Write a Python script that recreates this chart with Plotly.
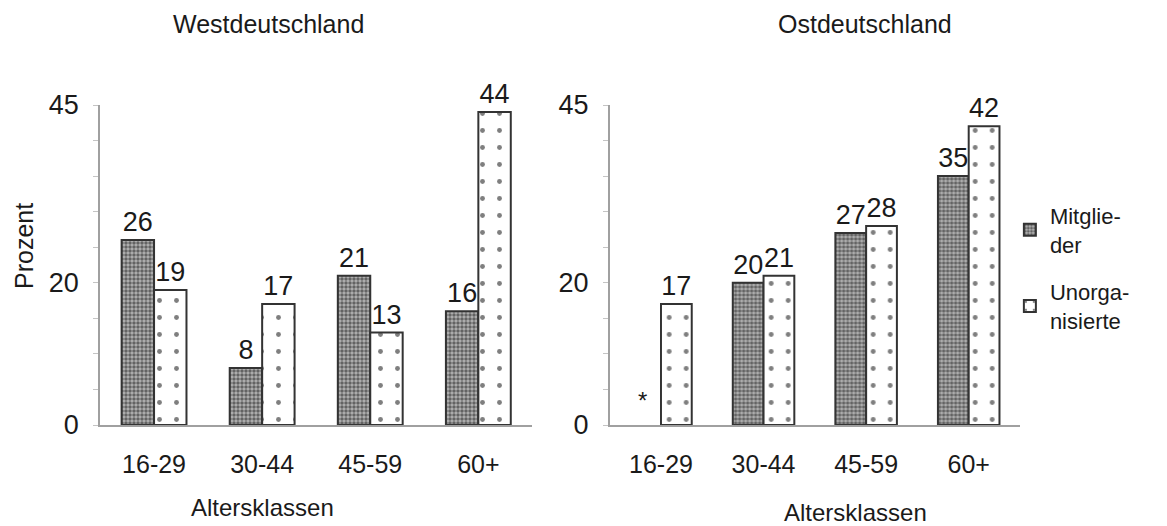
import plotly.graph_objects as go

categories = ["16-29", "30-44", "45-59", "60+"]
west_mitglieder = [26, 8, 21, 16]
west_unorg = [19, 17, 13, 44]
ost_mitglieder = [None, 20, 27, 35]
ost_unorg = [17, 21, 28, 42]
y_ticks = [0, 20, 45]

FONT = "Liberation Sans, Arial, sans-serif"
TXT = "#1a1a1a"
EDGE = "#333333"

mit_pattern = dict(shape=".", size=4, solidity=0.6, fgcolor="#111111", bgcolor="#b4b4b4")
uno_pattern = dict(shape=".", size=17, solidity=0.065, fgcolor="#000000", bgcolor="#ffffff")


def fmt(vals):
    return ["" if v is None else str(v) for v in vals]


def bar(y, name, group, pattern, color, xa, ya, show):
    return go.Bar(
        x=categories, y=y, name=name, legendgroup=group, showlegend=show,
        marker=dict(color=color, line=dict(color=EDGE, width=2), pattern=pattern),
        text=fmt(y), textposition="outside", cliponaxis=False,
        textfont=dict(size=27, color=TXT, family=FONT), xaxis=xa, yaxis=ya)


fig = go.Figure()
fig.add_trace(bar(west_mitglieder, "Mitglie-<br>der", "m", mit_pattern, "#b4b4b4", "x", "y", True))
fig.add_trace(bar(west_unorg, "Unorga-<br>nisierte", "u", uno_pattern, "#ffffff", "x", "y", True))
fig.add_trace(bar(ost_mitglieder, "Mitglie-<br>der", "m", mit_pattern, "#b4b4b4", "x2", "y2", False))
fig.add_trace(bar(ost_unorg, "Unorga-<br>nisierte", "u", uno_pattern, "#ffffff", "x2", "y2", False))

axis_common = dict(showgrid=False, zeroline=False, showline=True, linecolor="#a0a0a0", linewidth=1.5)
xaxis_common = dict(axis_common, ticks="", tickfont=dict(size=25, color=TXT, family=FONT),
                    ticklabelstandoff=16)
yaxis_common = dict(axis_common, range=[0, 45], tickvals=y_ticks, ticks="",
                    tickfont=dict(size=27, color=TXT, family=FONT), ticklabelstandoff=14,
                    minor=dict(dtick=5, ticks="outside", ticklen=5, tickcolor="#c4c4c4"))

fig.update_layout(
    width=1167, height=526,
    margin=dict(l=100, r=147, t=105, b=101),
    paper_bgcolor="white", plot_bgcolor="white",
    barmode="group", bargap=0.4, bargroupgap=0.0,
    font=dict(family=FONT, color=TXT),
    xaxis=dict(xaxis_common, domain=[0, 0.47], anchor="y"),
    yaxis=dict(yaxis_common, anchor="x"),
    xaxis2=dict(xaxis_common, domain=[0.554, 1.0], anchor="y2"),
    yaxis2=dict(yaxis_common, anchor="x2"),
    legend=dict(x=0.989, y=0.72, xanchor="left", yanchor="top",
                font=dict(size=22, color=TXT, family=FONT),
                tracegroupgap=16, bgcolor="rgba(0,0,0,0)", itemwidth=30),
    showlegend=True,
)

PH = 526 - 101 - 105
annotations = [
    dict(text="Westdeutschland", x=268, y=24, size=25),
    dict(text="Ostdeutschland", x=865, y=24, size=25),
    dict(text="Altersklassen", x=262, y=507, size=24),
    dict(text="Altersklassen", x=855, y=512, size=24),
]
for a in annotations:
    fig.add_annotation(text=a["text"], xref="paper", yref="paper",
                       x=(a["x"] - 100) / 920, y=(526 - 101 - a["y"]) / PH,
                       showarrow=False, xanchor="center", yanchor="middle",
                       font=dict(size=a["size"], color=TXT, family=FONT))
fig.add_annotation(text="Prozent", xref="paper", yref="paper",
                   x=(24 - 100) / 920, y=(526 - 101 - 246) / PH, textangle=-90,
                   showarrow=False, xanchor="center", yanchor="middle",
                   font=dict(size=25, color=TXT, family=FONT))
fig.add_annotation(text="*", xref="x2", yref="y2", x="16-29", y=3.5, xshift=-18,
                   showarrow=False, font=dict(size=24, color=TXT, family=FONT))

fig.write_html("out.html")
